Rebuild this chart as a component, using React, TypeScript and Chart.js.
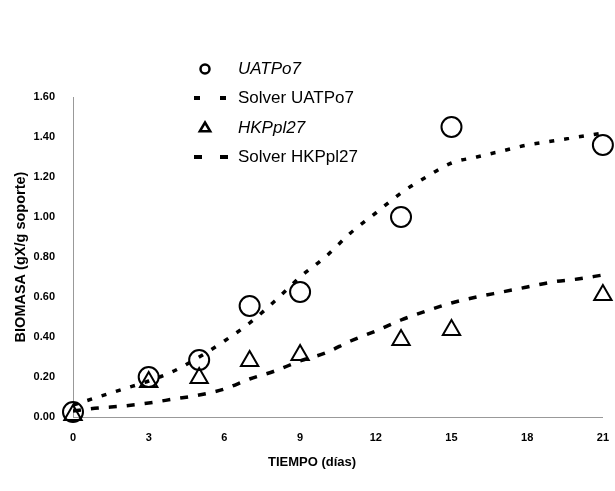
import React, { useEffect, useRef } from "react";
import { Chart, registerables } from "chart.js";

Chart.register(...registerables);

// Observed data (days, biomass gX/g soporte)
const DAYS_OBS = [0, 3, 5, 7, 9, 13, 15, 21];
const UATPO7_OBS = [0.025, 0.2, 0.285, 0.555, 0.625, 1.0, 1.45, 1.36];
const HKPPL27_OBS = [0.01, 0.175, 0.195, 0.28, 0.31, 0.385, 0.435, 0.61];

// Solver fitted curves
const DAYS_FIT = [0, 1, 2, 3, 4, 5, 6, 7, 8, 9, 10, 11, 12, 13, 14, 15, 16, 17, 18, 19, 20, 21];
const UATPO7_FIT = [0.06, 0.1, 0.14, 0.18, 0.23, 0.3, 0.38, 0.47, 0.58, 0.7, 0.8, 0.92, 1.02, 1.12, 1.2, 1.27, 1.3, 1.33, 1.36, 1.38, 1.4, 1.42];
const HKPPL27_FIT = [0.03, 0.045, 0.055, 0.07, 0.09, 0.11, 0.14, 0.19, 0.23, 0.28, 0.32, 0.38, 0.43, 0.485, 0.53, 0.57, 0.6, 0.625, 0.65, 0.675, 0.69, 0.71];

const X_MIN = 0;
const X_MAX = 21;
const X_STEP = 3;
const Y_MIN = 0;
const Y_MAX = 1.6;
const Y_STEP = 0.2;

const LEGEND_LABELS = ["UATPo7", "Solver UATPo7", "HKPpl27", "Solver HKPpl27"];
const LEGEND_ITALIC = [true, false, true, false];
const X_TITLE = "TIEMPO (días)";
const Y_TITLE = "BIOMASA (gX/g soporte)";

const FONT = "'Liberation Sans', Arial, sans-serif";

const legendPlugin = {
  id: "customLegend",
  afterDatasetsDraw(chart: any) {
    const ctx = chart.ctx;
    const rowsY = [69, 98, 128, 157];
    const markerX = 205;
    const textX = 238;
    ctx.save();
    chart.data.datasets.forEach((ds: any, i: number) => {
      const y = rowsY[i];
      ctx.strokeStyle = "#000";
      ctx.fillStyle = "#000";
      if (ds.showLine === false) {
        ctx.lineWidth = 2.5;
        ctx.setLineDash([]);
        ctx.beginPath();
        if (ds.pointStyle === "circle") {
          ctx.arc(markerX, y, 4.5, 0, Math.PI * 2);
        } else {
          const r = 5.5;
          ctx.moveTo(markerX, y - r);
          ctx.lineTo(markerX + r * 0.95, y + r * 0.6);
          ctx.lineTo(markerX - r * 0.95, y + r * 0.6);
          ctx.closePath();
        }
        ctx.stroke();
      } else {
        ctx.lineWidth = 4;
        const len = i === 1 ? 6 : 8;
        ctx.setLineDash([]);
        ctx.beginPath();
        ctx.moveTo(194, y);
        ctx.lineTo(194 + len, y);
        ctx.moveTo(220, y);
        ctx.lineTo(220 + len, y);
        ctx.stroke();
      }
      ctx.font = (LEGEND_ITALIC[i] ? "italic " : "") + "17px " + FONT;
      ctx.textBaseline = "middle";
      ctx.textAlign = "left";
      ctx.fillText(LEGEND_LABELS[i], textX, y);
    });
    // x axis title (drawn slightly left of centre, as in the original)
    ctx.font = "bold 13px " + FONT;
    ctx.textAlign = "center";
    ctx.textBaseline = "middle";
    ctx.fillText(X_TITLE, 312, 462);
    ctx.restore();
  },
};

export default function App() {
  const ref = useRef<HTMLCanvasElement | null>(null);

  useEffect(() => {
    if (!ref.current) return;
    const toXY = (xs: number[], ys: number[]) => xs.map((x, i) => ({ x, y: ys[i] }));
    const chart = new Chart(ref.current, {
      type: "line",
      data: {
        datasets: [
          {
            label: LEGEND_LABELS[0],
            data: toXY(DAYS_OBS, UATPO7_OBS),
            showLine: false,
            pointStyle: "circle",
            pointRadius: 10,
            pointBorderWidth: 2,
            pointBorderColor: "#000",
            pointBackgroundColor: "rgba(0,0,0,0)",
            borderColor: "#000",
            clip: false,
            order: 0,
          },
          {
            label: LEGEND_LABELS[1],
            data: toXY(DAYS_FIT, UATPO7_FIT),
            borderColor: "#000",
            borderWidth: 3.5,
            borderDash: [5, 10],
            pointRadius: 0,
            cubicInterpolationMode: "monotone",
            fill: false,
            order: 1,
          },
          {
            label: LEGEND_LABELS[2],
            data: toXY(DAYS_OBS, HKPPL27_OBS),
            showLine: false,
            pointStyle: "triangle",
            pointRadius: 10,
            pointBorderWidth: 2,
            pointBorderColor: "#000",
            pointBackgroundColor: "rgba(0,0,0,0)",
            borderColor: "#000",
            clip: false,
            order: 0,
          },
          {
            label: LEGEND_LABELS[3],
            data: toXY(DAYS_FIT, HKPPL27_FIT),
            borderColor: "#000",
            borderWidth: 3.5,
            borderDash: [8, 10],
            pointRadius: 0,
            cubicInterpolationMode: "monotone",
            fill: false,
            order: 1,
          },
        ],
      },
      options: {
        responsive: false,
        animation: false,
        layout: { padding: { top: 97, right: 5, bottom: 0, left: 0 } },
        plugins: {
          legend: { display: false },
          tooltip: { enabled: false },
          title: { display: false },
        },
        scales: {
          x: {
            type: "linear",
            min: X_MIN,
            max: X_MAX,
            afterFit: (s: any) => {
              s.height = 74;
            },
            ticks: {
              stepSize: X_STEP,
              color: "#000",
              padding: 6,
              font: { family: FONT, size: 11, weight: "bold" },
            },
            grid: { display: false },
            border: { display: true, color: "#999", width: 1, dash: [2, 4] },
            title: { display: false, text: X_TITLE },
          },
          y: {
            type: "linear",
            min: Y_MIN,
            max: Y_MAX,
            afterFit: (s: any) => {
              s.width = 73;
            },
            ticks: {
              stepSize: Y_STEP,
              color: "#000",
              padding: 10,
              font: { family: FONT, size: 11, weight: "bold" },
              callback: (v: any) => Number(v).toFixed(2),
            },
            grid: { display: false },
            border: { display: true, color: "#999", width: 1, dash: [2, 4] },
            title: {
              display: true,
              text: Y_TITLE,
              color: "#000",
              padding: { top: 12, bottom: 0 },
              font: { family: FONT, size: 14.5, weight: "bold" },
            },
          },
        },
      },
      plugins: [legendPlugin],
    });
    return () => chart.destroy();
  }, []);

  return (
    <div style={{ position: "absolute", left: 0, top: 0, width: 615, height: 491, background: "#fff" }}>
      <canvas ref={ref} width={615} height={491} style={{ display: "block" }} />
    </div>
  );
}
